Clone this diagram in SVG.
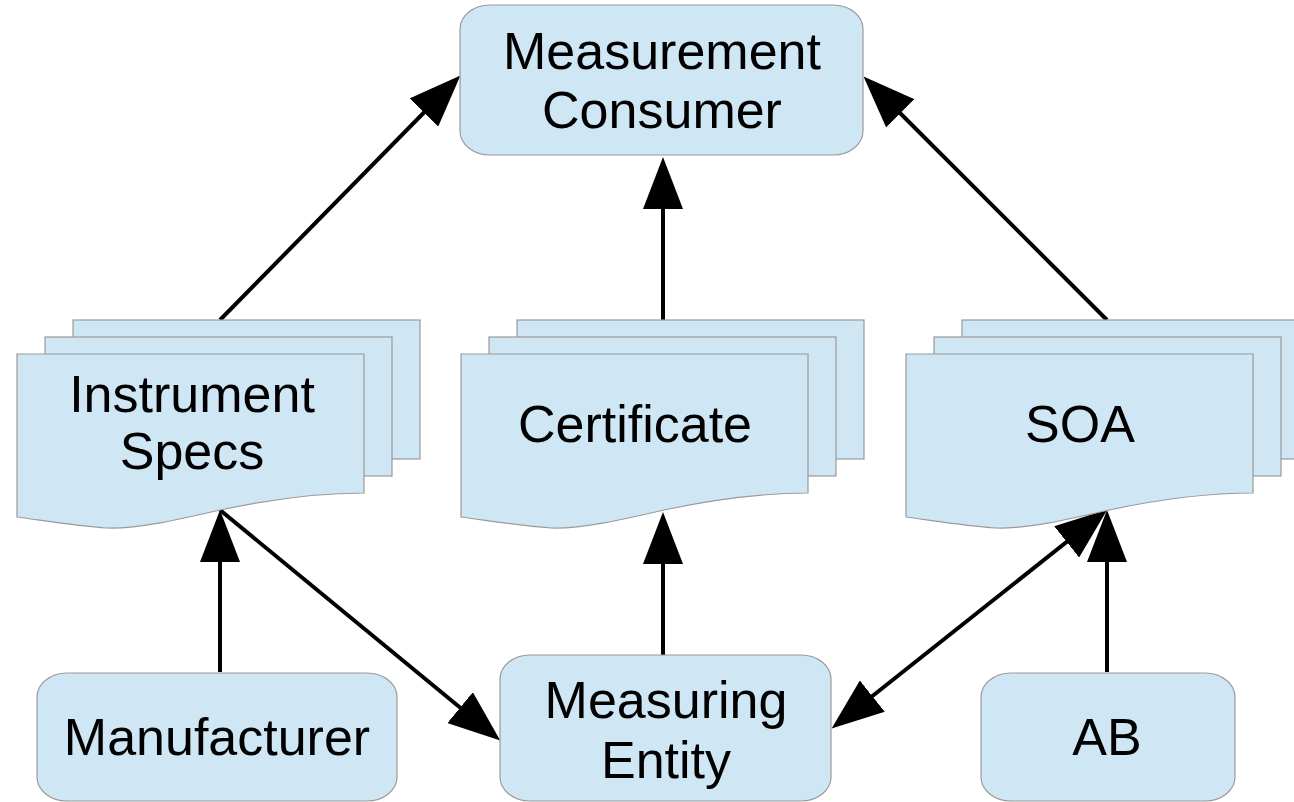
<svg xmlns="http://www.w3.org/2000/svg" width="1294" height="802" viewBox="0 0 1294 802">
<style>
.box{fill:#cfe6f4;stroke:#9a9a9a;stroke-width:1.2}
.lbl{font-family:"Liberation Sans",Arial,sans-serif;font-size:52px;fill:#000;text-anchor:middle}
.con{stroke:#000;stroke-width:4;fill:none}
</style>
<defs>
<marker id="ah" markerUnits="userSpaceOnUse" markerWidth="52" markerHeight="40" refX="40" refY="20" orient="auto-start-reverse" viewBox="0 0 52 40">
<path d="M0,0 L52,20 L0,40 Z" fill="#000"/>
</marker>
<g id="doc">
<rect class="box" x="56" y="-34" width="347" height="139"/>
<rect class="box" x="28" y="-17" width="347" height="139"/>
<path class="box" d="M0,0 H347 V139 C300,139 250,146 203,156 C160,166 120,175 90,174 C60,172 30,167 0,163 Z"/>
</g>
</defs>
<rect width="1294" height="802" fill="#ffffff"/>
<g id="connectors">
<line class="con" x1="220" y1="320" x2="452" y2="84" marker-end="url(#ah)"/>
<line class="con" x1="663" y1="320" x2="663" y2="169" marker-end="url(#ah)"/>
<line class="con" x1="1107" y1="320" x2="872" y2="85" marker-end="url(#ah)"/>
<line class="con" x1="220" y1="672" x2="220" y2="522" marker-end="url(#ah)"/>
<line class="con" x1="220" y1="510" x2="491" y2="733" marker-end="url(#ah)"/>
<line class="con" x1="663" y1="655" x2="663" y2="524" marker-end="url(#ah)"/>
<line class="con" x1="841" y1="721" x2="1098" y2="517" marker-start="url(#ah)" marker-end="url(#ah)"/>
<line class="con" x1="1107" y1="672" x2="1107" y2="522" marker-end="url(#ah)"/>
</g>
<g id="consumer">
<rect class="box" x="460" y="5" width="403" height="150" rx="30" ry="24"/>
<text class="lbl" x="662" y="69">Measurement</text>
<text class="lbl" x="662" y="128">Consumer</text>
</g>
<g id="specs">
<use href="#doc" x="17" y="354"/>
<text class="lbl" x="192" y="412">Instrument</text>
<text class="lbl" x="192" y="469">Specs</text>
</g>
<g id="certificate">
<use href="#doc" x="461" y="354"/>
<text class="lbl" x="635" y="442">Certificate</text>
</g>
<g id="soa">
<use href="#doc" x="906" y="354"/>
<text class="lbl" x="1080" y="442">SOA</text>
</g>
<g id="manufacturer">
<rect class="box" x="37" y="673" width="360" height="128" rx="30" ry="24"/>
<text class="lbl" x="217" y="755">Manufacturer</text>
</g>
<g id="measuring">
<rect class="box" x="500" y="655" width="331" height="146" rx="30" ry="24"/>
<text class="lbl" x="666" y="718">Measuring</text>
<text class="lbl" x="666" y="778">Entity</text>
</g>
<g id="ab">
<rect class="box" x="981" y="673" width="254" height="128" rx="30" ry="24"/>
<text class="lbl" x="1107" y="755">AB</text>
</g>
</svg>
